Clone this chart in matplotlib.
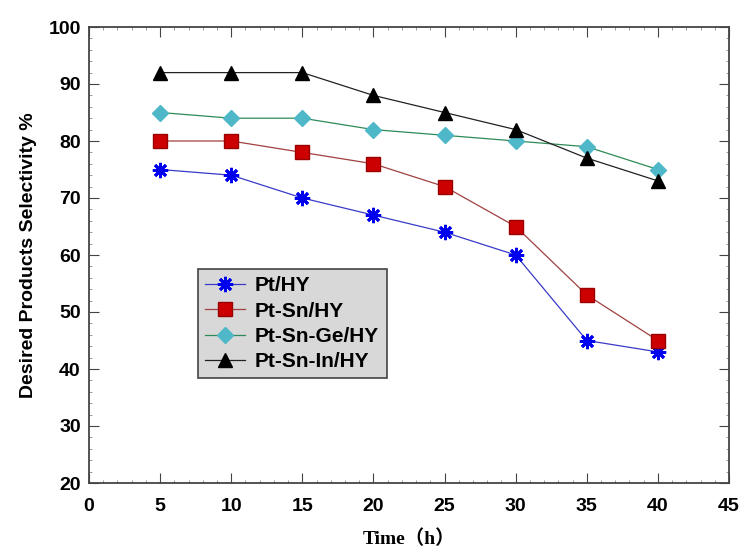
import matplotlib
matplotlib.use("Agg")
from matplotlib import pyplot as plt
from matplotlib.ticker import MultipleLocator

time_h = [5, 10, 15, 20, 25, 30, 35, 40]
pt_hy = [75, 74, 70, 67, 64, 60, 45, 43]
pt_sn_hy = [80, 80, 78, 76, 72, 65, 53, 45]
pt_sn_ge_hy = [85, 84, 84, 82, 81, 80, 79, 75]
pt_sn_in_hy = [92, 92, 92, 88, 85, 82, 77, 73]

plt.rcParams['font.family'] = ['Liberation Sans', 'DejaVu Sans']

fig = plt.figure(figsize=(7.41, 5.54), dpi=100)
ax = fig.add_axes([89 / 741, 1 - 483 / 554, 640 / 741, 456 / 554])

ax.plot(time_h, pt_hy, color='#3a3ac8', lw=0.9, marker=(8, 2, 0), ms=11,
        mec='#0000f0', mew=2, label='Pt/HY')
ax.plot(time_h, pt_sn_hy, color='#a04040', lw=0.9, marker='s', ms=10.5,
        mfc='#cc0000', mec='#990000', label='Pt-Sn/HY')
ax.plot(time_h, pt_sn_ge_hy, color='#2e8b57', lw=0.9, marker='D', ms=8,
        mfc='#4fb8c8', mec='#4fb8c8', label='Pt-Sn-Ge/HY')
ax.plot(time_h, pt_sn_in_hy, color='#222222', lw=0.9, marker='^', ms=10,
        mfc='black', mec='black', label='Pt-Sn-In/HY')

ax.set_xlim(0, 45)
ax.set_ylim(20, 100)
ax.xaxis.set_major_locator(MultipleLocator(5))
ax.xaxis.set_minor_locator(MultipleLocator(1))
ax.yaxis.set_major_locator(MultipleLocator(10))
ax.yaxis.set_minor_locator(MultipleLocator(2))
ax.tick_params(which='both', direction='in', top=True, right=True, color='#444444')
ax.tick_params(which='major', length=7, labelsize=14)
ax.tick_params(axis='y', which='major', pad=6)
ax.tick_params(axis='x', which='major', pad=11)
ax.tick_params(which='minor', length=2.5, color='#888888')
for lbl in ax.get_xticklabels() + ax.get_yticklabels():
    lbl.set_fontweight('bold')
for s in ax.spines.values():
    s.set_color('#444444')
    s.set_linewidth(1.3)

ax.set_xlabel('Time（h）', family=['Liberation Serif', 'Noto Sans CJK SC'],
              fontweight='bold', fontsize=14, labelpad=10)
ax.set_ylabel('Desired Products Selectivity %', fontweight='bold', fontsize=14,
              labelpad=8)

leg = ax.legend(loc='upper left', bbox_to_anchor=(0.170, 0.469), fancybox=False,
                framealpha=1, facecolor='#d8d8d8', edgecolor='#444444',
                prop={'weight': 'bold', 'size': 15}, handlelength=1.9,
                handletextpad=0.5, borderpad=0.35, labelspacing=0.3,
                borderaxespad=0)
leg.get_frame().set_linewidth(1.2)

fig.savefig('out.png', dpi=100)
